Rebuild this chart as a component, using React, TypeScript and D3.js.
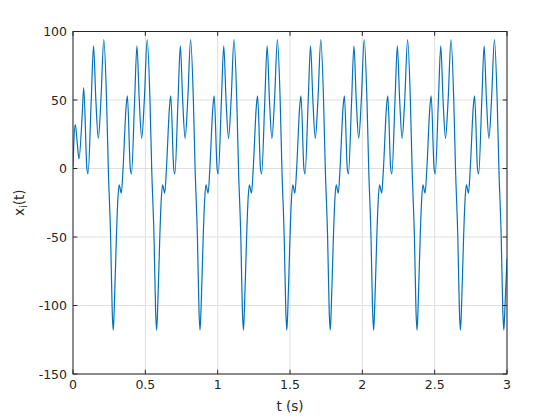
import * as d3 from 'd3';

// sample times (s), one row per cycle
const time = [
  0, 0.006, 0.016, 0.03, 0.041, 0.064, 0.074, 0.096, 0.104, 0.126, 0.142, 0.158, 0.175, 0.193, 0.213, 0.232, 0.244, 0.26, 0.271,
  0.278, 0.284, 0.3, 0.309, 0.319, 0.334, 0.346, 0.367, 0.376, 0.396, 0.404, 0.426, 0.442, 0.458, 0.475, 0.493, 0.513, 0.532, 0.544, 0.56, 0.571,
  0.578, 0.584, 0.6, 0.609, 0.619, 0.634, 0.646, 0.667, 0.676, 0.696, 0.704, 0.726, 0.742, 0.758, 0.775, 0.793, 0.813, 0.832, 0.844, 0.86, 0.871,
  0.878, 0.884, 0.9, 0.909, 0.919, 0.934, 0.946, 0.967, 0.976, 0.996, 1.004, 1.026, 1.042, 1.058, 1.075, 1.093, 1.113, 1.132, 1.144, 1.16, 1.171,
  1.178, 1.184, 1.2, 1.209, 1.219, 1.234, 1.246, 1.267, 1.276, 1.296, 1.304, 1.326, 1.342, 1.358, 1.375, 1.393, 1.413, 1.432, 1.444, 1.46, 1.471,
  1.478, 1.484, 1.5, 1.509, 1.519, 1.534, 1.546, 1.567, 1.576, 1.596, 1.604, 1.626, 1.642, 1.658, 1.675, 1.693, 1.713, 1.732, 1.744, 1.76, 1.771,
  1.778, 1.784, 1.8, 1.809, 1.819, 1.834, 1.846, 1.867, 1.876, 1.896, 1.904, 1.926, 1.942, 1.958, 1.975, 1.993, 2.013, 2.032, 2.044, 2.06, 2.071,
  2.078, 2.084, 2.1, 2.109, 2.119, 2.134, 2.146, 2.167, 2.176, 2.196, 2.204, 2.226, 2.242, 2.258, 2.275, 2.293, 2.313, 2.332, 2.344, 2.36, 2.371,
  2.378, 2.384, 2.4, 2.409, 2.419, 2.434, 2.446, 2.467, 2.476, 2.496, 2.504, 2.526, 2.542, 2.558, 2.575, 2.593, 2.613, 2.632, 2.644, 2.66, 2.671,
  2.678, 2.684, 2.7, 2.709, 2.719, 2.734, 2.746, 2.767, 2.776, 2.796, 2.804, 2.826, 2.842, 2.858, 2.875, 2.893, 2.913, 2.932, 2.944, 2.96, 2.971,
  2.978, 2.984, 3,
];

// x_i(t) values at those times
const xi = [
  1, 20, 32, 18, 7, 40, 59, 0, -4, 50, 89.5, 50, 22, 50, 94, 50, 0, -50, -104,
  -118, -106, -50, -25, -12, -18, 0, 45, 53, 0, -4, 50, 89.5, 50, 22, 50, 94, 50, 0, -50, -104,
  -118, -106, -50, -25, -12, -18, 0, 45, 53, 0, -4, 50, 89.5, 50, 22, 50, 94, 50, 0, -50, -104,
  -118, -106, -50, -25, -12, -18, 0, 45, 53, 0, -4, 50, 89.5, 50, 22, 50, 94, 50, 0, -50, -104,
  -118, -106, -50, -25, -12, -18, 0, 45, 53, 0, -4, 50, 89.5, 50, 22, 50, 94, 50, 0, -50, -104,
  -118, -106, -50, -25, -12, -18, 0, 45, 53, 0, -4, 50, 89.5, 50, 22, 50, 94, 50, 0, -50, -104,
  -118, -106, -50, -25, -12, -18, 0, 45, 53, 0, -4, 50, 89.5, 50, 22, 50, 94, 50, 0, -50, -104,
  -118, -106, -50, -25, -12, -18, 0, 45, 53, 0, -4, 50, 89.5, 50, 22, 50, 94, 50, 0, -50, -104,
  -118, -106, -50, -25, -12, -18, 0, 45, 53, 0, -4, 50, 89.5, 50, 22, 50, 94, 50, 0, -50, -104,
  -118, -106, -50, -25, -12, -18, 0, 45, 53, 0, -4, 50, 89.5, 50, 22, 50, 94, 50, 0, -50, -104,
  -118, -106, -66,
];

const xTicks = [0, 0.5, 1, 1.5, 2, 2.5, 3];
const yTicks = [-150, -100, -50, 0, 50, 100];

const W = 560;
const H = 420;
const margin = { left: 73, right: 53, top: 31.5, bottom: 46 };
const axisColor = '#262626';
const gridColor = '#dfdfdf';
const font = '"DejaVu Sans", sans-serif';

export default function App() {
  const x = d3.scaleLinear().domain([0, 3]).range([margin.left, W - margin.right]);
  const y = d3.scaleLinear().domain([-150, 100]).range([H - margin.bottom, margin.top]);

  const pts = time.map((t, i) => [t, xi[i]] as [number, number]);
  const line = d3
    .line<[number, number]>()
    .x((d) => x(d[0]))
    .y((d) => y(d[1]))
    .curve(d3.curveMonotoneX);

  const [x0, x1] = x.range();
  const [y0, y1] = y.range(); // y0 bottom, y1 top
  const tick = 4.3;

  return (
    <svg
      width={W}
      height={H}
      style={{ position: 'absolute', left: 0, top: 0, background: '#fff' }}
      fontFamily={font}
    >
      <rect width={W} height={H} fill="#fff" />

      {/* grid */}
      {xTicks.map((t) => (
        <line key={'gx' + t} x1={x(t)} x2={x(t)} y1={y0} y2={y1} stroke={gridColor} strokeWidth={1} />
      ))}
      {yTicks.map((t) => (
        <line key={'gy' + t} x1={x0} x2={x1} y1={y(t)} y2={y(t)} stroke={gridColor} strokeWidth={1} />
      ))}

      <defs>
        <clipPath id="plotClip">
          <rect x={x0} y={y1} width={x1 - x0} height={y0 - y1} />
        </clipPath>
      </defs>

      <path
        d={line(pts) ?? ''}
        fill="none"
        stroke="#0072BD"
        strokeWidth={1.2}
        strokeLinejoin="round"
        clipPath="url(#plotClip)"
      />

      {/* box + inward ticks */}
      <rect x={x0} y={y1} width={x1 - x0} height={y0 - y1} fill="none" stroke={axisColor} strokeWidth={1} />
      {xTicks.map((t) => (
        <g key={'tx' + t}>
          <line x1={x(t)} x2={x(t)} y1={y0} y2={y0 - tick} stroke={axisColor} />
          <line x1={x(t)} x2={x(t)} y1={y1} y2={y1 + tick} stroke={axisColor} />
          <text x={x(t)} y={y0 + 15} textAnchor="middle" fontSize={12.5} fill={axisColor}>
            {t}
          </text>
        </g>
      ))}
      {yTicks.map((t) => (
        <g key={'ty' + t}>
          <line x1={x0} x2={x0 + tick} y1={y(t)} y2={y(t)} stroke={axisColor} />
          <line x1={x1} x2={x1 - tick} y1={y(t)} y2={y(t)} stroke={axisColor} />
          <text x={x0 - 6} y={y(t) + 4.5} textAnchor="end" fontSize={12.5} fill={axisColor}>
            {t}
          </text>
        </g>
      ))}

      {/* axis labels */}
      <text x={(x0 + x1) / 2} y={411} textAnchor="middle" fontSize={13.5} fill={axisColor}>
        t (s)
      </text>
      <text
        transform={`translate(24,${(y0 + y1) / 2}) rotate(-90)`}
        textAnchor="middle"
        fontSize={13.5}
        fill={axisColor}
      >
        x<tspan fontSize={10} dy={3}>i</tspan>
        <tspan dy={-3}>(t)</tspan>
      </text>
    </svg>
  );
}
